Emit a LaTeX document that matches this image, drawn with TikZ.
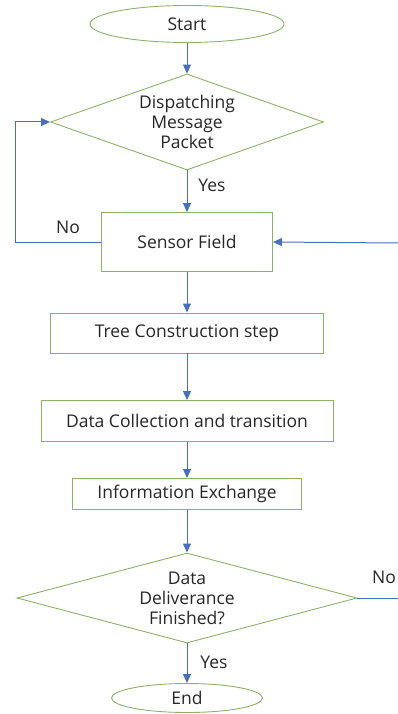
\documentclass[tikz,border=0pt]{standalone}
\usepackage{fontspec}
\setmainfont{Open Sans}
\usetikzlibrary{shapes, arrows.meta, shapes.geometric}
\definecolor{boxgreen}{RGB}{140,178,105}
\definecolor{flowblue}{RGB}{72,112,186}
\definecolor{txt}{RGB}{38,38,38}

\begin{document}
\begin{tikzpicture}[x=1pt, y=-1pt,
  every node/.style={text=txt, font=\fontsize{17.5}{20}\selectfont},
  term/.style={ellipse, draw=boxgreen, line width=0.9pt, inner sep=0pt},
  stepbox/.style={rectangle, draw=boxgreen, line width=0.9pt, inner sep=0pt},
  decide/.style={diamond, draw=boxgreen, line width=0.9pt, inner sep=-8pt, align=center},
  flow/.style={draw=flowblue, line width=1pt, -{Triangle[length=9pt, width=8pt]}},
  plain/.style={draw=flowblue, line width=1pt}]
\useasboundingbox (0,0) rectangle (398,714);
\node[term, minimum width=194pt, minimum height=37pt] (start) at (187,24) {Start};
\node[decide, shape aspect=2.84, minimum width=273pt, minimum height=96pt] (disp) at (187,122) {Dispatching\\Message\\Packet};
\node[stepbox, minimum width=171pt, minimum height=59pt] (sensor) at (187,242) {Sensor Field};
\node[stepbox, minimum width=273pt, minimum height=40pt] (tree) at (187,333) {Tree Construction step};
\node[stepbox, minimum width=292pt, minimum height=41pt] (collect) at (187,421) {Data Collection and transition};
\node[stepbox, minimum width=229pt, minimum height=31pt] (info) at (187,494) {Information Exchange};
\node[decide, shape aspect=3.78, minimum width=340pt, minimum height=90pt] (deliv) at (187,598) {Data\\Deliverance\\Finished?};
\node[term, minimum width=151pt, minimum height=29pt] (end) at (187,698) {End};
\coordinate (rin) at (398,243);
\coordinate (rout) at (398,598);
\draw[flow] (start) -- (disp);
\draw[flow] (disp) -- (sensor);
\draw[flow] (sensor) -- (tree);
\draw[flow] (tree) -- (collect);
\draw[flow] (collect) -- (info);
\draw[flow] (info) -- (deliv);
\draw[flow] (deliv) -- (end);
\draw[flow] (sensor.west) -- ++(-86,0) |- (disp.west);
\draw[flow] (rin) -- (sensor.east);
\draw[plain] (deliv.east) -- (rout);
\node (yes1) at (212,185) {Yes};
\node (no1) at (68,227) {No};
\node (no2) at (384,577) {No};
\node (yes2) at (214,662) {Yes};
\end{tikzpicture}
\end{document}
